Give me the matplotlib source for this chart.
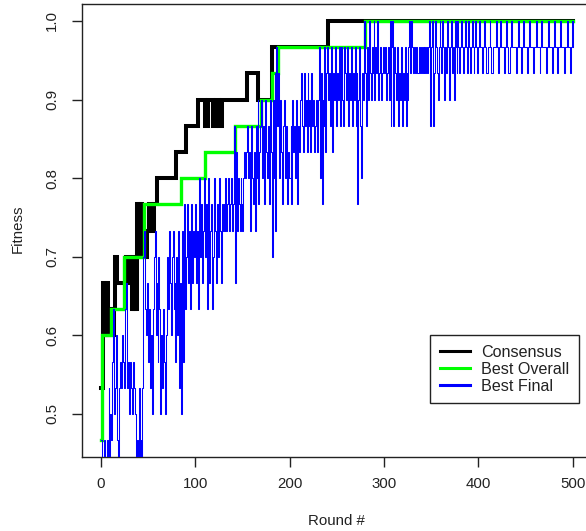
import matplotlib
matplotlib.use("Agg")
import matplotlib.pyplot as plt
from matplotlib.lines import Line2D
import numpy as np

plt.rcParams['font.family'] = ['Liberation Sans', 'DejaVu Sans']

# Fitness levels are multiples of 1/30
# Consensus: change points (round, level k)
cons_rounds = [0, 2, 3, 4, 5, 6, 7, 8, 9, 10, 12, 14, 15, 17, 27, 31, 33, 34, 35, 36, 37,
               38, 39, 40, 41, 42, 43, 45, 47, 49, 51, 53, 56, 59, 80, 90, 103, 110, 113,
               119, 122, 125, 128, 155, 166, 181, 241, 500]
cons_k = [16, 20, 18, 19, 18, 20, 18, 19, 18, 19, 18, 19, 21, 20, 21, 20, 19, 21, 19, 20, 19,
          23, 21, 23, 22, 23, 21, 22, 21, 22, 23, 22, 23, 24, 25, 26, 27, 26, 27,
          26, 27, 26, 27, 28, 27, 29, 30, 30]

# Best overall: change points
best_rounds = [0, 1, 11, 24, 46, 85, 110, 142, 170, 181, 188, 280, 500]
best_k = [14, 18, 19, 21, 23, 24, 25, 26, 27, 28, 29, 30, 30]

# Best final: one level per round (0..500)
final_k = [
    14, 13, 12, 14, 13, 12, 14, 13, 16, 13,
    15, 14, 17, 19, 15, 16, 18, 14, 13, 16,
    17, 16, 18, 17, 16, 18, 19, 20, 16, 17,
    15, 17, 16, 15, 17, 16, 15, 12, 14, 13,
    16, 12, 14, 13, 16, 21, 22, 19, 18, 20,
    17, 19, 16, 18, 15, 19, 21, 22, 18, 20,
    17, 21, 19, 15, 18, 16, 19, 17, 15, 18,
    21, 19, 22, 20, 18, 21, 22, 19, 20, 17,
    21, 18, 22, 16, 20, 15, 22, 17, 23, 19,
    21, 23, 20, 22, 19, 23, 21, 20, 22, 21,
    23, 20, 22, 19, 24, 21, 23, 20, 22, 24,
    21, 23, 19, 22, 24, 20, 22, 23, 19, 21,
    24, 22, 20, 23, 21, 24, 22, 20, 23, 22,
    23, 22, 24, 22, 23, 24, 22, 23, 24, 22,
    23, 26, 20, 25, 22, 24, 23, 22, 24, 23,
    22, 24, 25, 24, 25, 26, 24, 25, 22, 26,
    24, 23, 25, 22, 26, 24, 27, 23, 25, 26,
    27, 24, 26, 23, 27, 25, 24, 26, 23, 27,
    25, 21, 27, 24, 28, 22, 29, 26, 28, 24,
    27, 25, 23, 26, 27, 24, 26, 23, 25, 24,
    24, 26, 23, 27, 25, 26, 24, 27, 23, 26,
    25, 27, 28, 26, 25, 28, 26, 27, 25, 28,
    26, 27, 25, 28, 26, 27, 25, 26, 27, 25,
    27, 29, 24, 28, 23, 27, 26, 29, 25, 28,
    29, 27, 28, 26, 29, 25, 28, 27, 29, 26,
    28, 27, 29, 26, 28, 29, 27, 26, 29, 28,
    27, 29, 26, 28, 27, 29, 26, 28, 27, 29,
    26, 28, 23, 27, 29, 26, 24, 28, 27, 30,
    28, 26, 29, 27, 30, 28, 27, 29, 28, 30,
    27, 29, 28, 30, 27, 28, 29, 27, 28, 29,
    28, 29, 27, 28, 29, 27, 30, 26, 29, 30,
    26, 29, 28, 27, 29, 26, 28, 27, 29, 26,
    28, 27, 29, 26, 28, 27, 29, 30, 28, 30,
    29, 28, 29, 28, 29, 28, 28, 29, 28, 29,
    28, 29, 28, 29, 28, 29, 28, 29, 30, 26,
    29, 30, 26, 28, 30, 29, 28, 27, 29, 30,
    29, 28, 30, 29, 27, 29, 28, 30, 29, 27,
    29, 30, 28, 29, 27, 30, 29, 28, 30, 29,
    28, 29, 30, 29, 28, 29, 30, 29, 28, 30,
    29, 28, 29, 30, 29, 28, 29, 30, 29, 28,
    29, 30, 29, 29, 28, 29, 30, 29, 28, 28,
    29, 29, 30, 29, 28, 28, 29, 29, 29, 30,
    29, 28, 29, 30, 29, 29, 29, 28, 29, 30,
    29, 29, 28, 28, 29, 30, 29, 29, 29, 29,
    28, 29, 30, 29, 29, 28, 29, 29, 30, 29,
    29, 29, 28, 29, 30, 29, 29, 29, 28, 29,
    29, 30, 29, 29, 29, 28, 29, 30, 29, 29,
    29, 29, 28, 29, 30, 29, 29, 29, 28, 29,
    30, 29, 29, 29, 28, 29, 29, 30, 29, 29,
    29, 28, 29, 29, 30, 29, 29, 28, 29, 30,
    29,
]

x_ticks = [0, 100, 200, 300, 400, 500]
y_ticks = [0.5, 0.6, 0.7, 0.8, 0.9, 1.0]
y_tick_labels = ["0.5", "0.6", "0.7", "0.8", "0.9", "1.0"]
legend_labels = ["Consensus", "Best Overall", "Best Final"]
colors = ["#000000", "#00FF00", "#0000FF"]

W, H = 586, 531
fig = plt.figure(figsize=(W / 100, H / 100), dpi=100)
left, right, top, bottom = 82.1, 591.4, 4.2, 457.0
ax = fig.add_axes([left / W, 1 - bottom / H, (right - left) / W, (bottom - top) / H])

rounds_final = np.arange(len(final_k))
ax.step(cons_rounds, np.array(cons_k) / 30, where='post', color=colors[0], lw=2.9,
        solid_joinstyle='miter', zorder=2)
ax.step(best_rounds, np.array(best_k) / 30, where='post', color=colors[1], lw=2.4,
        solid_joinstyle='miter', zorder=3)
ax.step(rounds_final, np.array(final_k) / 30, where='post', color=colors[2], lw=0.75,
        zorder=4)

ax.set_xlim(-20, 520)
ax.set_ylim(0.4453, 1.0213)
ax.set_xticks(x_ticks)
ax.set_xticklabels([str(t) for t in x_ticks])
ax.set_yticks(y_ticks)
ax.set_yticklabels(y_tick_labels, rotation=90, va='center')
ax.tick_params(axis='both', direction='out', length=7.5, width=1, colors='#222222',
               labelsize=10.8, labelcolor='#222222')
ax.tick_params(axis='x', pad=7.0)
ax.tick_params(axis='y', pad=9.0)
for s in ax.spines.values():
    s.set_linewidth(1.0)
    s.set_color('#222222')

fig.text(336 / W, 1 - 521 / H, "Round #", ha='center', va='center', fontsize=10.8,
         color='#222222')
fig.text(17.5 / W, 1 - 229 / H, "Fitness", ha='center', va='center', rotation=90,
         fontsize=10.8, color='#222222')

handles = [Line2D([], [], color=c, lw=2.2) for c in colors]
leg = ax.legend(handles, legend_labels, loc='upper left',
                bbox_to_anchor=(430 / W, 1 - 335 / H), bbox_transform=fig.transFigure,
                fancybox=False, framealpha=1, edgecolor='#222222', fontsize=11.6,
                handlelength=1.9, handletextpad=0.65, labelspacing=0.12, borderpad=0.6,
                borderaxespad=0)
leg.get_frame().set_linewidth(1.0)
for t in leg.get_texts():
    t.set_color('#222222')

fig.savefig("out.png", dpi=100)
